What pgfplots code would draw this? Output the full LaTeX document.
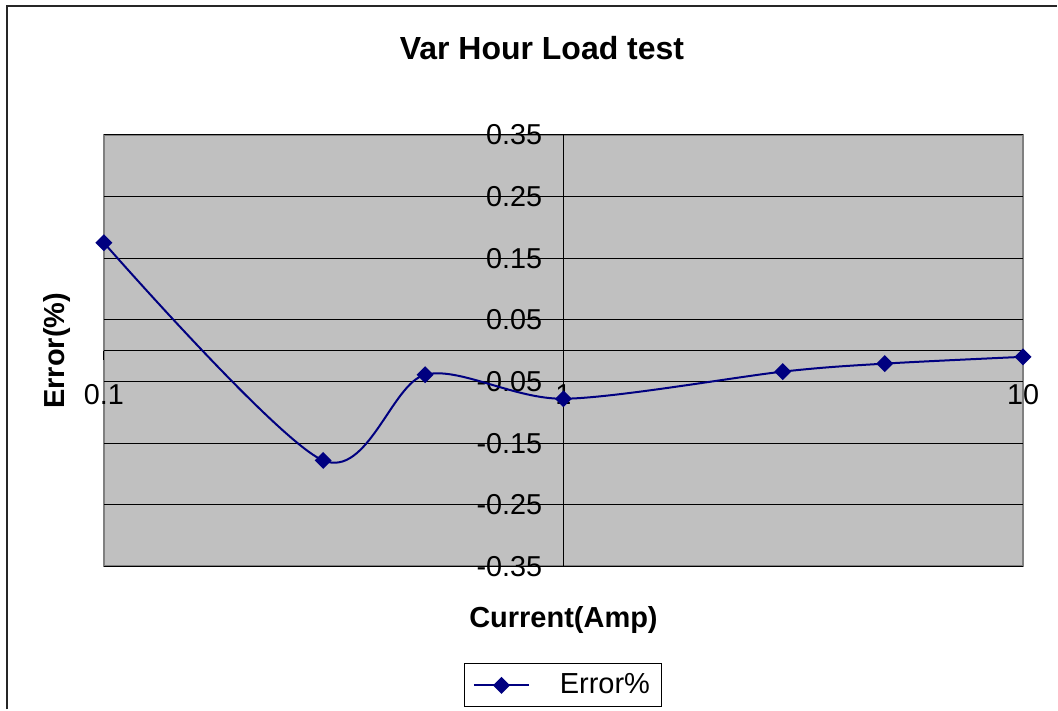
\documentclass[border=0pt]{standalone}
\usepackage{fontspec}
\setmainfont{Liberation Sans}
\usepackage{pgfplots}
\pgfplotsset{compat=1.18}

\definecolor{silver}{RGB}{192,192,192}
\definecolor{plotgray}{RGB}{128,128,128}
\definecolor{navy}{RGB}{0,0,128}

\begin{document}
\begin{tikzpicture}
\begin{axis}[
	width=460pt, height=216pt, scale only axis,
	xmode=log, xmin=0.1, xmax=10,
	ymin=-0.35, ymax=0.35,
	axis x line=middle, axis y line=middle,
	axis line style={-, black, line width=0.5pt},
	axis background/.style={fill=silver, draw=plotgray, line width=1pt},
	hide obscured x ticks=false,
	hide obscured y ticks=false,
	xtick={0.1,1,10}, xticklabels={0.1,1,10},
	xminorticks=false, yminorticks=false,
	ytick={-0.35,-0.25,-0.15,-0.05,0.05,0.15,0.25,0.35},
	yticklabels={-0.35,-0.25,-0.15,-0.05,0.05,0.15,0.25,0.35},
	ymajorgrids, major grid style={black, line width=0.5pt},
	tick align=outside, major tick length=4.5pt,
	tick style={black, line width=0.5pt},
	every tick label/.append style={font=\fontsize{14.4}{17}\selectfont, inner sep=0pt},
	xticklabel style={anchor=base, yshift=-22.5pt},
	yticklabel style={anchor=east, xshift=-6pt},
	every axis title shift=0pt,
	title={Var Hour Load test},
	title style={at={(axis description cs:0.4766,1.2014)}, anchor=center,
		font=\bfseries\fontsize{16}{19}\selectfont},
	xlabel={Current(Amp)},
	xlabel style={at={(axis description cs:0.5,0)}, anchor=base, yshift=-30.5pt,
		font=\bfseries\fontsize{14.5}{17}\selectfont},
	ylabel={Error(\%)},
	ylabel style={at={(axis description cs:-0.0424,0.5)}, rotate=90, anchor=base,
		font=\bfseries\fontsize{14.5}{17}\selectfont},
	clip=false,
	legend style={at={(0.5,-0.2245)}, anchor=north, draw=black, line width=0.5pt,
		fill=white, inner xsep=4pt, inner ysep=3pt,
		font=\fontsize{14.5}{17}\selectfont,
		/tikz/every odd column/.append style={column sep=13pt}},
	legend image code/.code={\draw[mark repeat=2, mark phase=2, #1]
		plot coordinates {(0pt,0pt) (13.75pt,0pt) (27.5pt,0pt)};},
]
\addplot [navy, line width=1pt, smooth, mark=square*, mark size=2.5pt,
	mark options={solid, rotate=45, fill=navy}]
coordinates {
	(0.1, 0.175)
	(0.3, -0.178)
	(0.5, -0.039)
	(1, -0.078)
	(3, -0.034)
	(5, -0.021)
	(10, -0.010)
};
\addlegendentry{Error\%}
\end{axis}
\draw[line width=1pt, black!85]
	([shift={(-48.5pt,-71.5pt)}]current axis.south west) --
	([shift={(-48.5pt,280.5pt)}]current axis.south west) --
	([shift={(477pt,280.5pt)}]current axis.south west);
\path ([shift={(-52pt,-71.5pt)}]current axis.south west) rectangle
	([shift={(477pt,283.5pt)}]current axis.south west);
\end{tikzpicture}
\end{document}
